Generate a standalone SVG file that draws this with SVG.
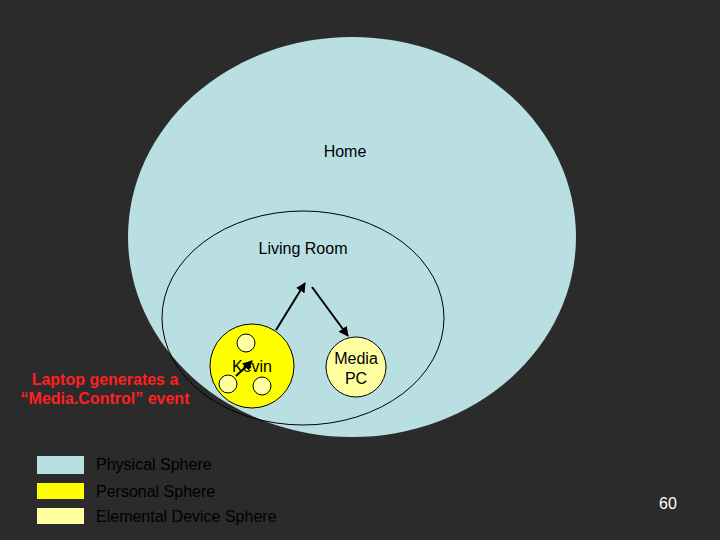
<svg xmlns="http://www.w3.org/2000/svg" width="720" height="540" viewBox="0 0 720 540">
<style>
text{font-family:"Liberation Sans",Arial,sans-serif;font-size:16px;fill:#000}
.s{stroke:#000;stroke-width:1}
.a{stroke:#000;stroke-width:2;fill:none;marker-end:url(#ah)}
</style>
<defs><marker id="ah" viewBox="0 0 10 10" refX="9" refY="5" markerWidth="5" markerHeight="5" orient="auto"><path d="M0,0L10,5L0,10z" fill="#000"/></marker></defs>
<rect width="720" height="540" fill="#2b2b2b"/>
<g id="home"><ellipse cx="352" cy="237" rx="224" ry="200" fill="#b9dfe3"/><text x="345" y="157" text-anchor="middle">Home</text></g>
<g id="living"><ellipse cx="303" cy="318" rx="141" ry="107" fill="none" class="s"/><text x="303" y="254" text-anchor="middle">Living Room</text></g>
<g id="kevin"><circle cx="252" cy="366" r="42" fill="#ffff00" class="s"/>
<circle cx="246" cy="343" r="9" fill="#ffffa0" class="s"/><circle cx="228" cy="384" r="9" fill="#ffffa0" class="s"/><circle cx="262" cy="386" r="9" fill="#ffffa0" class="s"/>
<text x="252" y="372" text-anchor="middle" font-size="18">Kevin</text></g>
<g id="mediapc"><circle cx="356" cy="367" r="30" fill="#ffffa0" class="s"/><text x="356" y="364" text-anchor="middle">Media</text><text x="356" y="384" text-anchor="middle">PC</text></g>
<g id="connectors"><line x1="276" y1="330" x2="305" y2="283" class="a"/><line x1="312" y1="287" x2="348" y2="336" class="a"/><line x1="236" y1="376" x2="252" y2="361" class="a"/></g>
<g id="note"><text x="105" y="385" text-anchor="middle" font-size="14" font-weight="bold" fill="#ff2020" style="fill:#ff2020">Laptop generates a</text><text x="105" y="404" text-anchor="middle" font-size="14" font-weight="bold" style="fill:#ff2020">“Media.Control” event</text></g>
<g id="legend">
<rect x="37" y="456" width="47" height="18" fill="#b9dfe3"/><text x="96" y="470" font-size="15">Physical Sphere</text>
<rect x="37" y="483" width="47" height="16" fill="#ffff00"/><text x="96" y="497" font-size="15">Personal Sphere</text>
<rect x="37" y="508" width="47" height="16" fill="#ffffa0"/><text x="96" y="522" font-size="15">Elemental Device Sphere</text>
</g>
<text x="668" y="509" text-anchor="middle" font-size="14" style="fill:#fff">60</text>
</svg>
